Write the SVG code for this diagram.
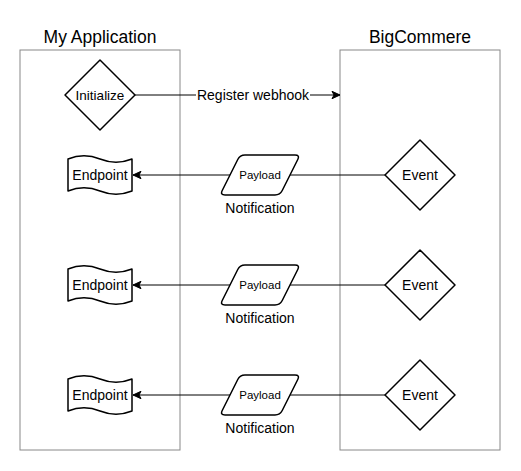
<svg xmlns="http://www.w3.org/2000/svg" width="521" height="471" viewBox="0 0 521 471">
<style>
  text { font-family: "Liberation Sans", Arial, sans-serif; fill: #000; text-anchor: middle; }
  .title { font-size: 17.5px; }
  .lbl { font-size: 14px; }
  .small { font-size: 11.5px; }
  .container { fill: #fff; stroke: #888; stroke-width: 1; }
  .shape { fill: #fff; stroke: #000; stroke-width: 1.5; stroke-linejoin: round; }
  .edge { fill: none; stroke: #000; stroke-width: 1; }
</style>
<defs>
  <marker id="arrow" viewBox="0 0 10 8" refX="9" refY="4" markerWidth="10" markerHeight="8" markerUnits="userSpaceOnUse" orient="auto">
    <path d="M9,4 L1,0.3 L3,4 L1,7.7 Z" fill="#000" stroke="#000" stroke-width="1"/>
  </marker>
  <path id="tape" d="M-32,-16 Q-16,-22.4 0,-16 Q16,-9.6 32,-16 L32,16 Q16,22.4 0,16 Q-16,9.6 -32,16 Z"/>
  <path id="para" d="M-15,-20 L35,-20 Q40,-20 37.76,-15.53 L22.24,15.53 Q20,20 15,20 L-35,20 Q-40,20 -37.76,15.53 L-22.24,-15.53 Q-20,-20 -15,-20 Z"/>
  <path id="diamond" d="M0,-35 L35,0 L0,35 L-35,0 Z"/>
</defs>
<rect width="521" height="471" fill="#fff"/>

<g id="my-application">
  <rect class="container" x="20" y="50" width="160" height="400"/>
  <text class="title" x="100" y="42.5">My Application</text>
</g>
<g id="bigcommere">
  <rect class="container" x="340" y="50" width="160" height="400"/>
  <text class="title" x="420" y="42.5">BigCommere</text>
</g>

<g id="connectors">
  <path class="edge" d="M135,95 L196,95 M310,95 L340,95" marker-end="url(#arrow)"/>
  <line class="edge" x1="385" y1="175" x2="290" y2="175"/>
  <line class="edge" x1="230" y1="175" x2="133" y2="175" marker-end="url(#arrow)"/>
  <line class="edge" x1="385" y1="285" x2="290" y2="285"/>
  <line class="edge" x1="230" y1="285" x2="133" y2="285" marker-end="url(#arrow)"/>
  <line class="edge" x1="385" y1="395" x2="290" y2="395"/>
  <line class="edge" x1="230" y1="395" x2="133" y2="395" marker-end="url(#arrow)"/>
  <text class="lbl" x="253" y="100">Register webhook</text>
</g>

<g id="initialize">
  <use href="#diamond" class="shape" x="100" y="95"/>
  <text x="100" y="99.8" style="font-size:13.5px">Initialize</text>
</g>

<g id="endpoint-1">
  <use href="#tape" class="shape" x="100" y="175"/>
  <text class="lbl" x="100" y="180">Endpoint</text>
</g>
<g id="payload-1">
  <use href="#para" class="shape" x="260" y="175"/>
  <text class="small" x="260" y="179">Payload</text>
  <text class="lbl" x="260" y="213">Notification</text>
</g>
<g id="event-1">
  <use href="#diamond" class="shape" x="420" y="175"/>
  <text class="lbl" x="420" y="180">Event</text>
</g>

<g id="endpoint-2">
  <use href="#tape" class="shape" x="100" y="285"/>
  <text class="lbl" x="100" y="290">Endpoint</text>
</g>
<g id="payload-2">
  <use href="#para" class="shape" x="260" y="285"/>
  <text class="small" x="260" y="289">Payload</text>
  <text class="lbl" x="260" y="323">Notification</text>
</g>
<g id="event-2">
  <use href="#diamond" class="shape" x="420" y="285"/>
  <text class="lbl" x="420" y="290">Event</text>
</g>

<g id="endpoint-3">
  <use href="#tape" class="shape" x="100" y="395"/>
  <text class="lbl" x="100" y="400">Endpoint</text>
</g>
<g id="payload-3">
  <use href="#para" class="shape" x="260" y="395"/>
  <text class="small" x="260" y="399">Payload</text>
  <text class="lbl" x="260" y="433">Notification</text>
</g>
<g id="event-3">
  <use href="#diamond" class="shape" x="420" y="395"/>
  <text class="lbl" x="420" y="400">Event</text>
</g>
</svg>
